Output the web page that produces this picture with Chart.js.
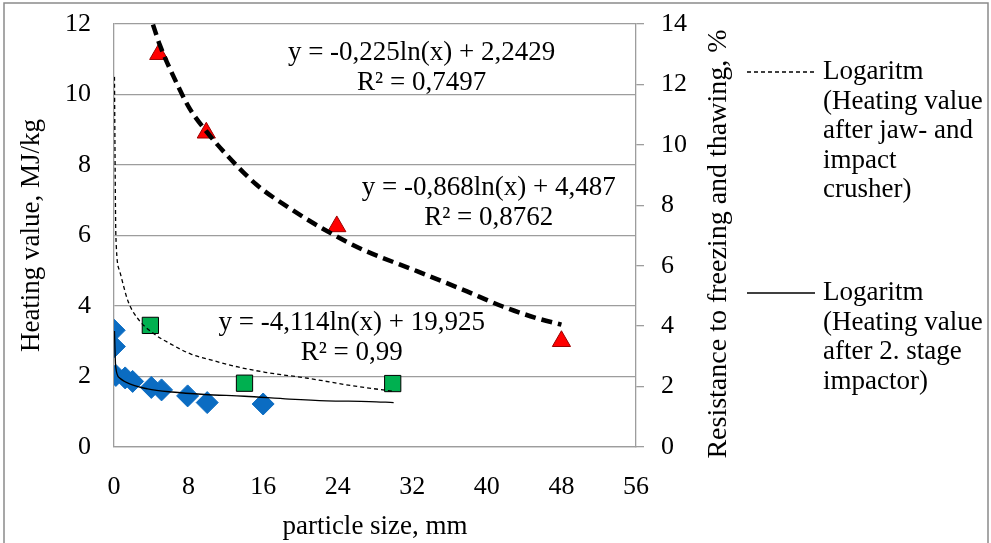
<!DOCTYPE html>
<html>
<head>
<meta charset="utf-8">
<script src="https://cdn.jsdelivr.net/npm/chart.js@4.4.0/dist/chart.umd.min.js"></script>
<style>
  html, body { margin: 0; padding: 0; background: #fff; }
  #wrap { position: relative; width: 991px; height: 543px; }
</style>
</head>
<body>
<div id="wrap"><canvas id="chart-particle"></canvas></div>
<script>
// Tick values
const sizeTicks = [0, 8, 16, 24, 32, 40, 48, 56];
const heatTicks = [0, 2, 4, 6, 8, 10, 12];
const frostTicks = [0, 2, 4, 6, 8, 10, 12, 14];

// Heating value after 2. stage impactor (blue diamonds), MJ/kg
const impactorSize = [0.02, 0.04, 0.2, 1.2, 2.0, 4.0, 5.1, 7.9, 10.0, 16.0];
const impactorHeat = [3.31, 2.85, 2.03, 1.96, 1.86, 1.69, 1.62, 1.45, 1.26, 1.22];

// Heating value after jaw- and impact crusher (green squares), MJ/kg
const crusherSize = [3.9, 14.0, 29.9];
const crusherHeat = [3.45, 1.81, 1.80];

// Resistance to freezing and thawing (red triangles), %
const frostSize = [4.8, 9.9, 23.9, 48.0];
const frostValue = [13.0, 10.4, 7.3, 3.5];

// Logarithmic trend lines
const impactorTrendSize = [0.05, 0.18, 0.6, 1.9, 3.6, 6.2, 9.7, 14, 18.8, 22.8, 27.4, 30];
const impactorTrendHeat = [3.29, 2.28, 1.96, 1.77, 1.65, 1.56, 1.49, 1.44, 1.36, 1.31, 1.29, 1.26];

const crusherTrendSize = [0.05, 0.12, 0.2, 0.6, 1.5, 2.5, 4.35, 6.1, 8.3, 10.8, 13.3, 16.2, 20.8, 25.5, 30];
const crusherTrendHeat = [10.5, 7.96, 6.0, 5.0, 4.14, 3.66, 3.2, 2.92, 2.63, 2.44, 2.27, 2.12, 1.95, 1.74, 1.58];

const frostTrendSize = [4.18, 4.9, 6.33, 8.12, 9.9, 12.05, 15.3, 18.8, 22.6, 26.7, 32.1, 37.4, 41.7, 45.3, 48];
const frostTrendValue = [13.98, 13.32, 12.3, 11.2, 10.45, 9.68, 8.68, 7.91, 7.19, 6.53, 5.87, 5.21, 4.65, 4.27, 4.05];

// Text
const trendLabels = [
  ['y = -0,225ln(x) + 2,2429', 'R² = 0,7497'],
  ['y = -0,868ln(x) + 4,487', 'R² = 0,8762'],
  ['y = -4,114ln(x) + 19,925', 'R² = 0,99']
];
const legendLabels = [
  ['Logaritm', '(Heating value', 'after jaw- and', 'impact', 'crusher)'],
  ['Logaritm', '(Heating value', 'after 2. stage', 'impactor)']
];

const FONT = "'Liberation Serif', 'Times New Roman', serif";
const gridColor = '#9d9d9d';
Chart.defaults.font.family = FONT;
Chart.defaults.color = '#000';

const pts = (xs, ys) => xs.map((x, i) => ({ x: x, y: ys[i] }));

// vertical axes: fixed width, and no extra top/bottom padding from tick labels
const fixWidth = w => s => { s.width = w; s.paddingTop = 0; s.paddingBottom = 0; };

// Extra drawing: frame, trendline labels, legend, right axis title
const extrasPlugin = {
  id: 'extras',
  afterDraw(chart, args, opts) {
    const ctx = chart.ctx;
    const xs = chart.scales.x, ys = chart.scales.y;
    ctx.save();

    // outer frame
    ctx.strokeStyle = '#8a8a8a';
    ctx.lineWidth = 1.5;
    ctx.strokeRect(4, 3, 984, 600);

    // trendline equations
    ctx.fillStyle = '#000';
    ctx.font = '27px ' + FONT;
    ctx.textAlign = 'center';
    ctx.textBaseline = 'middle';
    opts.anchors.forEach((a, i) => {
      const px = xs.getPixelForValue(a.x);
      const py = ys.getPixelForValue(a.y);
      trendLabels[i].forEach((line, j) => ctx.fillText(line, px, py + j * 30));
    });

    // legend
    ctx.textAlign = 'left';
    opts.legend.forEach((item, i) => {
      ctx.beginPath();
      ctx.setLineDash(item.dash);
      ctx.lineWidth = 1.3;
      ctx.strokeStyle = '#000';
      ctx.moveTo(747, item.top);
      ctx.lineTo(815, item.top);
      ctx.stroke();
      ctx.setLineDash([]);
      legendLabels[i].forEach((line, j) => ctx.fillText(line, 823, item.top + j * 29.5));
    });

    // right axis title (reads bottom to top)
    ctx.translate(719, 244);
    ctx.rotate(-Math.PI / 2);
    ctx.textAlign = 'center';
    ctx.font = '28px ' + FONT;
    ctx.fillText('Resistance to freezing and thawing, %', 0, 0);
    ctx.restore();
  }
};

const ctx = document.getElementById('chart-particle');
new Chart(ctx, {
  type: 'scatter',
  data: {
    datasets: [
      {
        data: pts(impactorTrendSize, impactorTrendHeat),
        yAxisID: 'y', showLine: true, pointRadius: 0,
        borderColor: '#000', borderWidth: 1.3,
        cubicInterpolationMode: 'monotone'
      },
      {
        data: pts(crusherTrendSize, crusherTrendHeat),
        yAxisID: 'y', showLine: true, pointRadius: 0,
        borderColor: '#000', borderWidth: 1.3, borderDash: [4, 3],
        cubicInterpolationMode: 'monotone'
      },
      {
        data: pts(frostTrendSize, frostTrendValue),
        yAxisID: 'y2', showLine: true, pointRadius: 0,
        borderColor: '#000', borderWidth: 4.5, borderDash: [11, 6],
        cubicInterpolationMode: 'monotone'
      },
      {
        data: pts(impactorSize, impactorHeat),
        yAxisID: 'y', pointStyle: 'rectRot', pointRadius: 11,
        backgroundColor: '#0b6cc2', borderColor: '#0b6cc2', borderWidth: 1
      },
      {
        data: pts(crusherSize, crusherHeat),
        yAxisID: 'y', pointStyle: 'rect', pointRadius: 11.5,
        backgroundColor: '#00b050', borderColor: '#000', borderWidth: 1
      },
      {
        data: pts(frostSize, frostValue),
        yAxisID: 'y2', pointStyle: 'triangle', pointRadius: 10.5,
        backgroundColor: '#ff0000', borderColor: '#9a0000', borderWidth: 1
      }
    ]
  },
  options: {
    responsive: true,
    maintainAspectRatio: false,
    animation: false,
    events: [],
    layout: { padding: { left: 0, right: 0, top: 24, bottom: 0 } },
    plugins: {
      legend: { display: false },
      tooltip: { enabled: false },
      extras: {
        anchors: [{ x: 33.0, y: 11.19 }, { x: 40.2, y: 7.36 }, { x: 25.5, y: 3.53 }],
        legend: [{ dash: [4, 3], top: 72 }, { dash: [], top: 293 }]
      }
    },
    scales: {
      x: {
        type: 'linear', position: 'bottom', min: 0, max: 56,
        afterBuildTicks: s => { s.ticks = sizeTicks.map(v => ({ value: v })); },
        afterFit: s => { s.height = 96; },
        grid: { display: false, drawTicks: false },
        border: { display: true, color: gridColor, width: 1.3 },
        ticks: { font: { size: 26 }, padding: 25, maxRotation: 0, autoSkip: false },
        title: { display: true, text: 'particle size, mm', font: { size: 27 }, padding: { top: 0, bottom: 0 } }
      },
      y: {
        position: 'left', min: 0, max: 12,
        afterBuildTicks: s => { s.ticks = heatTicks.map(v => ({ value: v })); },
        afterFit: fixWidth(114),
        grid: { color: gridColor, lineWidth: 1.3, drawTicks: false },
        border: { display: true, color: gridColor, width: 1.3 },
        ticks: { font: { size: 26 }, padding: 23 },
        title: { display: true, text: 'Heating value, MJ/kg', font: { size: 27 }, padding: { top: 16, bottom: 0 } }
      },
      y2: {
        position: 'right', min: 0, max: 14,
        afterBuildTicks: s => { s.ticks = frostTicks.map(v => ({ value: v })); },
        afterFit: fixWidth(355),
        grid: { drawOnChartArea: false, color: gridColor, lineWidth: 1.3, tickLength: 8 },
        border: { display: true, color: gridColor, width: 1.3 },
        ticks: { font: { size: 26 }, padding: 17 }
      }
    }
  },
  plugins: [extrasPlugin]
});
</script>
</body>
</html>
